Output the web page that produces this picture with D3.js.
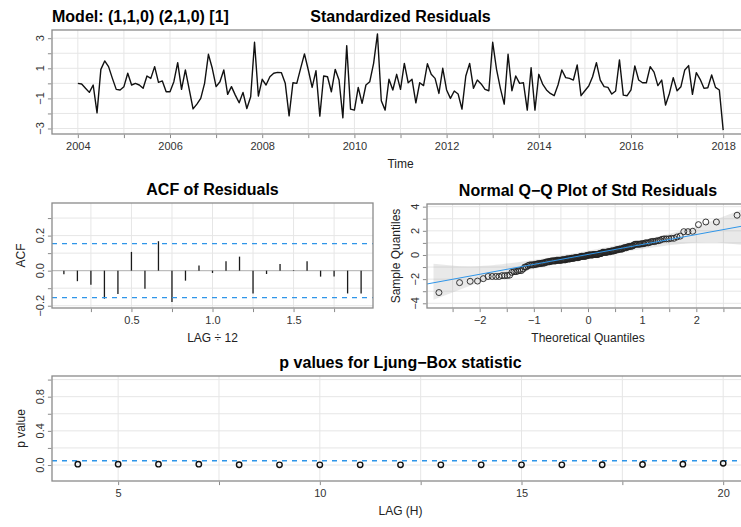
<!DOCTYPE html>
<html><head><meta charset="utf-8">
<script src="https://cdn.jsdelivr.net/npm/d3@7"></script>
<style>
body{margin:0;background:#fff}
svg{display:block}
text{font-family:"Liberation Sans",Arial,Helvetica,sans-serif}
</style>
</head><body>
<svg id="c" width="741" height="527"></svg>
<script>
// ---------------- DATA ----------------
const modelLabel = "Model: (1,1,0) (2,1,0) [1]";
const startYear = 2004, freq = 12;
// standardized residuals, monthly Jan 2004 .. Jan 2018
const resid = [
 0.00,-0.04,-0.33,-0.60,-0.11,-1.96, 0.93, 1.49, 1.11, 0.33,-0.40,-0.44,
-0.22, 0.67,-0.11, 0.00,-0.11,-0.33, 0.49, 0.33, 1.11, 0.07, 0.16,-0.56,
-0.56, 0.11, 1.38,-0.40, 0.89,-0.40,-1.70,-1.38,-1.00, 0.00, 1.93, 1.00,
-0.22, 0.11, 0.89,-0.73,-0.22,-0.78,-1.29,-0.60,-1.67,-0.89, 2.73,-0.84,
 0.27,-0.11, 0.44, 0.67, 0.73, 0.71, 0.00,-2.16, 0.04, 0.00, 1.00, 1.96,
 0.89,-0.27, 0.84,-2.18, 0.49, 0.44,-0.56, 0.93, 0.22,-2.29, 2.51,-1.71,
-1.78,-0.27,-1.33,-0.11, 0.11, 1.33, 3.29,-1.16,-1.78, 0.27,-0.44, 0.60,
-0.40, 1.33, 0.04, 0.27,-1.29, 0.04,-0.15, 1.30, 0.60, 0.33,-0.67, 1.00,
-0.44,-1.00,-0.51,-0.71,-1.71, 0.49, 1.33,-0.33, 0.22,-0.04,-0.40,-0.49,
 2.73, 0.93,-0.33,-1.38, 1.93,-0.49, 0.49, 0.00, 0.04,-1.78, 1.04,-1.78,
 0.60,-0.05,-0.44,-0.67,-0.82,-0.11, 0.89, 0.38, 0.33, 0.22, 1.22,-0.82,
-0.49,-0.18, 0.44, 1.38, 0.22,-0.22,-0.27,-0.71,-0.51, 1.56,-0.78,-0.82,
-0.44, 1.16, 0.22, 0.04, 0.04, 1.11, 0.75,-0.15, 0.22,-1.44,-0.67, 0.38,
-0.49,-0.22, 0.89, 1.18,-0.73, 0.71, 0.27,-0.33,-0.29, 0.56,-0.27,-0.44,
-3.11
];
// ACF of residuals, lags 1..23 (in years = lag/12)
const acfValues = [-0.02,-0.06,-0.08,-0.16,-0.133,0.107,-0.103,0.168,-0.179,-0.057,0.029,-0.013,
                    0.053,0.08,-0.13,-0.019,0.038,0.003,0.053,-0.034,-0.034,-0.13,-0.13];
const acfBound = 0.154;
// Ljung-Box p-values
const lbLags = [4,5,6,7,8,9,10,11,12,13,14,15,16,17,18,19,20];
const pValues = [0.01,0.01,0.01,0.01,0.003,0.002,0.002,0.002,0.002,0.002,0.002,0.002,0.002,0.003,0.006,0.01,0.02];
const sigLevel = 0.05;

// ticks / labels
const timeTicks = [2004,2005,2006,2007,2008,2009,2010,2011,2012,2013,2014,2015,2016,2017,2018];
const timeLabels = [2004,2006,2008,2010,2012,2014,2016,2018];
const residYTicks = [-3,-2,-1,0,1,2,3];
const residYLabels = [-3,-1,1,3];
const acfXTicks = [0.25,0.5,0.75,1.0,1.25,1.5,1.75];
const acfXLabels = [0.5,1.0,1.5];
const acfYTicks = [-0.2,-0.1,0,0.1,0.2,0.3];
const acfYLabels = [-0.2,0,0.2];
const acfYDomain = [-0.213,0.386];
const qqXTicks = [-2.5,-2,-1.5,-1,-0.5,0,0.5,1,1.5,2,2.5];
const qqXLabels = [-2,-1,0,1,2];
const qqYTicks = [-4,-3,-2,-1,0,1,2,3,4];
const qqYLabels = [-4,-2,0,2,4];
const qqYDomain = [-4.39,4.22];
const pXTicks = [5,7.5,10,12.5,15,17.5,20];
const pXLabels = [5,10,15,20];
const pYTicks = [0,0.2,0.4,0.6,0.8,1.0];
const pYLabels = [0,0.4,0.8];
const pYDomain = [-0.187,1.042];

// ---------------- HELPERS ----------------
const svg = d3.select("#c");
const BLUE = "#2f95e8", GRID = "#e6e6e6", FRAME = "#8a8a8a", TXT = "#333";
const minus = s => String(s).replace("-", "\u2212");
const ext = (a,b) => { const r=b-a; return [a-0.04*r, b+0.04*r]; };

function qnorm(p){
  const a=[-3.969683028665376e+01,2.209460984245205e+02,-2.759285104469687e+02,1.383577518672690e+02,-3.066479806614716e+01,2.506628277459239e+00];
  const b=[-5.447609879822406e+01,1.615858368580409e+02,-1.556989798598866e+02,6.680131188771972e+01,-1.328068155288572e+01];
  const c=[-7.784894002430293e-03,-3.223964580411365e-01,-2.400758277161838e+00,-2.549732539343734e+00,4.374664141464968e+00,2.938163982698783e+00];
  const d=[7.784695709041462e-03,3.224671290700398e-01,2.445134137142996e+00,3.754408661907416e+00];
  const pl=0.02425, ph=1-pl; let q,r;
  if(p<pl){q=Math.sqrt(-2*Math.log(p));return (((((c[0]*q+c[1])*q+c[2])*q+c[3])*q+c[4])*q+c[5])/((((d[0]*q+d[1])*q+d[2])*q+d[3])*q+1);}
  if(p<=ph){q=p-0.5;r=q*q;return (((((a[0]*r+a[1])*r+a[2])*r+a[3])*r+a[4])*r+a[5])*q/(((((b[0]*r+b[1])*r+b[2])*r+b[3])*r+b[4])*r+1);}
  q=Math.sqrt(-2*Math.log(1-p));return -(((((c[0]*q+c[1])*q+c[2])*q+c[3])*q+c[4])*q+c[5])/((((d[0]*q+d[1])*q+d[2])*q+d[3])*q+1);
}
const dnorm = z => Math.exp(-z*z/2)/Math.sqrt(2*Math.PI);

function panel(o){
  const g = svg.append("g");
  const x = d3.scaleLinear().domain(o.xd).range([o.x0,o.x1]);
  const y = d3.scaleLinear().domain(o.yd).range([o.y1,o.y0]);
  // grid
  g.selectAll(null).data(o.xt).enter().append("line")
    .attr("x1",d=>x(d)).attr("x2",d=>x(d)).attr("y1",o.y0).attr("y2",o.y1)
    .attr("stroke",GRID).attr("stroke-width",1);
  g.selectAll(null).data(o.yt).enter().append("line")
    .attr("y1",d=>y(d)).attr("y2",d=>y(d)).attr("x1",o.x0).attr("x2",o.x1)
    .attr("stroke",GRID).attr("stroke-width",1);
  // ticks
  const xa = d3.axisBottom(x).tickValues(o.xt).tickSize(3.5).tickFormat(d=>o.xl.includes(d)?minus(o.xf?o.xf(d):d):"");
  const ya = d3.axisLeft(y).tickValues(o.yt).tickSize(3.5).tickFormat(()=> "");
  const gx = g.append("g").attr("transform",`translate(0,${o.y1})`).call(xa);
  gx.select(".domain").remove();
  gx.selectAll(".tick line").attr("stroke",FRAME).attr("transform","translate(0,0.6)");
  gx.selectAll(".tick text").attr("fill",TXT).attr("font-size",11).attr("y",8).attr("dy","0.71em")
    .attr("font-family",'"Liberation Sans",Arial,sans-serif');
  const gy = g.append("g").attr("transform",`translate(${o.x0},0)`).call(ya);
  gy.select(".domain").remove();
  gy.selectAll(".tick line").attr("stroke",FRAME).attr("transform","translate(-0.6,0)");
  gy.selectAll(".tick text").remove();
  g.selectAll(null).data(o.yl).enter().append("text")
    .attr("transform",d=>`translate(${o.x0-8},${y(d)}) rotate(-90)`)
    .attr("text-anchor","middle").attr("font-size",11).attr("fill",TXT)
    .text(d=>minus(o.yf?o.yf(d):d));
  const data = g.append("g");
  // frame
  const frame = ()=>{
    g.append("rect").attr("x",o.x0).attr("y",o.y0).attr("width",o.x1-o.x0).attr("height",o.y1-o.y0)
      .attr("fill","none").attr("stroke",FRAME).attr("stroke-width",1.3);
  };
  // title & labels
  if(o.title) svg.append("text").attr("x",(o.x0+o.x1)/2).attr("y",o.y0-8.5).attr("text-anchor","middle")
      .attr("font-size",16).attr("font-weight","bold").attr("fill","#000").text(o.title);
  if(o.xlab) svg.append("text").attr("x",(o.x0+o.x1)/2).attr("y",o.y1+34).attr("text-anchor","middle")
      .attr("font-size",12).attr("fill","#222").text(o.xlab);
  if(o.ylab) svg.append("text").attr("transform",`translate(${o.x0-27.5},${(o.y0+o.y1)/2}) rotate(-90)`)
      .attr("text-anchor","middle").attr("font-size",12).attr("fill","#222").text(o.ylab);
  return {x,y,g:data,frame};
}

// ---------------- STANDARDIZED RESIDUALS ----------------
{
  const tIdx = resid.map((v,i)=>startYear + i/freq);
  const p = panel({x0:52,x1:749,y0:30,y1:134,
    xd:ext(tIdx[0],tIdx[tIdx.length-1]), yd:ext(d3.min(resid),d3.max(resid)),
    xt:timeTicks, xl:timeLabels, yt:residYTicks, yl:residYLabels,
    title:"Standardized Residuals", xlab:"Time"});
  p.g.append("path").datum(resid)
    .attr("d",d3.line().x((v,i)=>p.x(tIdx[i])).y(v=>p.y(v)))
    .attr("fill","none").attr("stroke","#111").attr("stroke-width",1.4).attr("stroke-linejoin","round");
  p.frame();
  svg.append("text").attr("x",52).attr("y",21.5).attr("font-size",16).attr("font-weight","bold")
    .attr("fill","#000").text(modelLabel);
}

// ---------------- ACF ----------------
{
  const lags = acfValues.map((v,i)=>(i+1)/freq);
  const p = panel({x0:52,x1:373,y0:203,y1:308,
    xd:ext(lags[0],lags[lags.length-1]), yd:acfYDomain,
    xt:acfXTicks, xl:acfXLabels, xf:d=>d.toFixed(1), yt:acfYTicks, yl:acfYLabels, yf:d=>d.toFixed(1),
    title:"ACF of Residuals", xlab:"LAG \u00F7 12", ylab:"ACF"});
  p.g.append("line").attr("x1",52).attr("x2",373).attr("y1",p.y(0)).attr("y2",p.y(0))
    .attr("stroke","#b5b5b5").attr("stroke-width",1);
  p.g.selectAll(null).data(acfValues).enter().append("line")
    .attr("x1",(v,i)=>p.x(lags[i])).attr("x2",(v,i)=>p.x(lags[i]))
    .attr("y1",p.y(0)).attr("y2",v=>p.y(v)).attr("stroke","#1a1a1a").attr("stroke-width",1.3);
  [acfBound,-acfBound].forEach(b=>{
    p.g.append("line").attr("x1",52).attr("x2",373).attr("y1",p.y(b)).attr("y2",p.y(b))
      .attr("stroke",BLUE).attr("stroke-width",1.3).attr("stroke-dasharray","5,5");
  });
  p.frame();
}

// ---------------- Q-Q ----------------
{
  const n = resid.length;
  const s = resid.slice().sort(d3.ascending);
  const PP = s.map((v,i)=>(i+1-0.5)/n);
  const z = PP.map(qnorm);
  const yq = [d3.quantile(s,0.25), d3.quantile(s,0.75)];
  const xq = [qnorm(0.25), qnorm(0.75)];
  const b = (yq[1]-yq[0])/(xq[1]-xq[0]);
  const a = yq[0]-b*xq[0];
  const SE = z.map((zz,i)=>(b/dnorm(zz))*Math.sqrt(PP[i]*(1-PP[i])/n));
  const fit = z.map(zz=>a+b*zz);
  const U = fit.map((f,i)=>f+3.9*SE[i]), L = fit.map((f,i)=>f-3.9*SE[i]);
  const zb = z.slice(); zb[0]-=0.1; zb[n-1]+=0.1;
  const xd = ext(z[0],z[n-1]);
  const p = panel({x0:427,x1:749,y0:204,y1:308,
    xd:xd, yd:qqYDomain,
    xt:qqXTicks, xl:qqXLabels, yt:qqYTicks, yl:qqYLabels,
    title:"Normal Q\u2212Q Plot of Std Residuals", xlab:"Theoretical Quantiles", ylab:"Sample Quantiles"});
  const poly = zb.map((zz,i)=>[p.x(zz),p.y(L[i])]).concat(zb.map((zz,i)=>[p.x(zz),p.y(U[i])]).reverse());
  p.g.append("path").attr("d","M"+poly.join("L")+"Z").attr("fill","rgba(153,153,153,0.22)").attr("stroke","none");
  p.g.selectAll(null).data(s).enter().append("circle")
    .attr("cx",(v,i)=>p.x(z[i])).attr("cy",v=>p.y(v)).attr("r",3)
    .attr("fill","none").attr("stroke","#222").attr("stroke-width",0.9);
  p.g.append("line").attr("x1",p.x(xd[0])).attr("x2",p.x(xd[1]))
    .attr("y1",p.y(a+b*xd[0])).attr("y2",p.y(a+b*xd[1]))
    .attr("stroke",BLUE).attr("stroke-width",1);
  p.frame();
}

// ---------------- Ljung-Box ----------------
{
  const p = panel({x0:52,x1:749,y0:376,y1:481,
    xd:ext(lbLags[0],lbLags[lbLags.length-1]), yd:pYDomain,
    xt:pXTicks, xl:pXLabels, yt:pYTicks, yl:pYLabels, yf:d=>d.toFixed(1),
    title:"p values for Ljung\u2212Box statistic", xlab:"LAG (H)", ylab:"p value"});
  p.g.append("line").attr("x1",52).attr("x2",749).attr("y1",p.y(sigLevel)).attr("y2",p.y(sigLevel))
    .attr("stroke",BLUE).attr("stroke-width",1.3).attr("stroke-dasharray","5,5");
  p.g.selectAll(null).data(pValues).enter().append("circle")
    .attr("cx",(v,i)=>p.x(lbLags[i])).attr("cy",v=>p.y(v)).attr("r",2.7)
    .attr("fill","none").attr("stroke","#111").attr("stroke-width",1.4);
  p.frame();
}
</script>
</body></html>
